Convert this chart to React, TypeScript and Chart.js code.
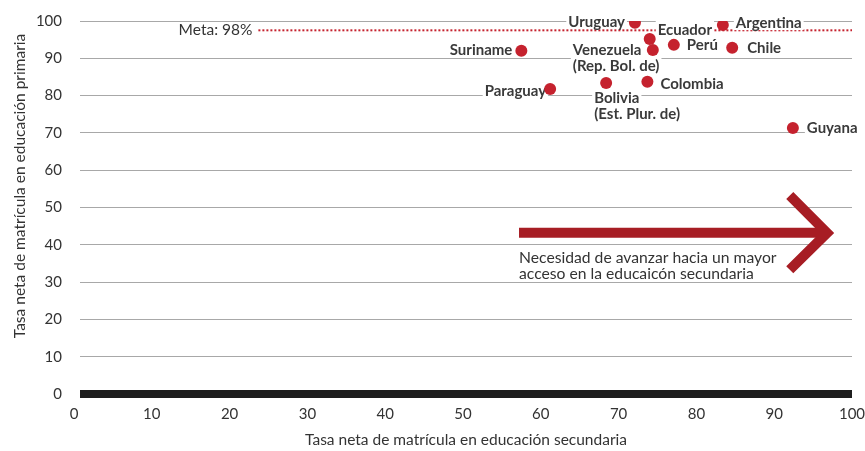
import React, { useEffect, useRef } from 'react';
import { Chart, registerables } from 'chart.js';

Chart.register(...registerables);

// ---- data ----
const countries = [
  'Uruguay',
  'Argentina',
  'Ecuador',
  'Venezuela (Rep. Bol. de)',
  'Perú',
  'Chile',
  'Suriname',
  'Paraguay',
  'Bolivia (Est. Plur. de)',
  'Colombia',
  'Guyana',
];
const secundaria = [72.1, 83.4, 74.0, 74.4, 77.1, 84.6, 57.5, 61.2, 68.4, 73.7, 92.4];
const primaria = [99.5, 98.9, 95.2, 92.2, 93.6, 92.8, 92.0, 81.8, 83.4, 83.7, 71.3];

const xTicks = [0, 10, 20, 30, 40, 50, 60, 70, 80, 90, 100];
const yTicks = [0, 10, 20, 30, 40, 50, 60, 70, 80, 90, 100];

const metaValue = 97.5;
const metaLabel = 'Meta: 98%';
const xTitle = 'Tasa neta de matrícula en educación secundaria';
const yTitle = 'Tasa neta de matrícula en educación primaria';
const arrowText = ['Necesidad de avanzar hacia un mayor', 'acceso en la educaicón secundaria'];

// ---- annotation geometry & label layout (style, not data) ----
const metaStartX = 23.7;
const arrowGeom = { x0: 57.2, x1: 96.8, y: 43.2, headX: 92.0, headTop: 53.2, headBottom: 33.3 };
type LabelLayout = { dx: number; dy: number; align: CanvasTextAlign; split?: boolean };
const labelLayout: LabelLayout[] = [
  { dx: -10, dy: -1, align: 'right' },
  { dx: 13, dy: -2, align: 'left' },
  { dx: 8, dy: -9, align: 'left' },
  { dx: -80, dy: 0, align: 'left', split: true },
  { dx: 13, dy: 0, align: 'left' },
  { dx: 15, dy: 0, align: 'left' },
  { dx: -9, dy: -1, align: 'right' },
  { dx: -4, dy: 2, align: 'right' },
  { dx: -12, dy: 15, align: 'left', split: true },
  { dx: 13, dy: 2, align: 'left' },
  { dx: 14, dy: 0, align: 'left' },
];

const RED = '#c5222e';
const DARK_RED = '#a71d24';
const TEXT = '#333333';
const FONT = 'Lato, "Open Sans", sans-serif';

const overlayPlugin = {
  id: 'overlay',
  beforeDatasetsDraw(chart: any) {
    const { ctx, chartArea } = chart;
    const x = chart.scales.x;
    const y = chart.scales.y;
    ctx.save();

    // meta dotted line
    const my = y.getPixelForValue(metaValue);
    const mx = x.getPixelForValue(metaStartX);
    ctx.strokeStyle = RED;
    ctx.lineWidth = 2;
    ctx.setLineDash([2, 2]);
    ctx.beginPath();
    ctx.moveTo(mx, my);
    ctx.lineTo(chartArea.right, my);
    ctx.stroke();
    ctx.setLineDash([]);
    ctx.font = `15.5px ${FONT}`;
    ctx.fillStyle = TEXT;
    ctx.textAlign = 'right';
    ctx.textBaseline = 'middle';
    ctx.fillText(metaLabel, mx - 6, my);

    // arrow
    const ay = y.getPixelForValue(arrowGeom.y);
    const ax0 = x.getPixelForValue(arrowGeom.x0);
    const ax1 = x.getPixelForValue(arrowGeom.x1);
    ctx.strokeStyle = DARK_RED;
    ctx.lineWidth = 10;
    ctx.lineCap = 'butt';
    ctx.beginPath();
    ctx.moveTo(ax0, ay);
    ctx.lineTo(ax1 - 4, ay);
    ctx.stroke();
    ctx.lineJoin = 'miter';
    ctx.beginPath();
    ctx.moveTo(x.getPixelForValue(arrowGeom.headX), y.getPixelForValue(arrowGeom.headTop));
    ctx.lineTo(ax1, ay);
    ctx.lineTo(x.getPixelForValue(arrowGeom.headX), y.getPixelForValue(arrowGeom.headBottom));
    ctx.stroke();

    ctx.font = `15.7px ${FONT}`;
    ctx.fillStyle = TEXT;
    ctx.textAlign = 'left';
    ctx.textBaseline = 'alphabetic';
    arrowText.forEach((line, j) => {
      ctx.fillText(line, ax0, ay + 30 + j * 16);
    });

    // point labels
    const meta = chart.getDatasetMeta(0);
    ctx.font = `bold 15px ${FONT}`;
    ctx.textBaseline = 'middle';
    countries.forEach((name, i) => {
      const p = meta.data[i];
      if (!p) return;
      const L = labelLayout[i];
      const lines = L.split ? name.replace(' (', '\n(').split('\n') : [name];
      lines.forEach((line, j) => {
        const w = ctx.measureText(line).width;
        const tx = p.x + L.dx;
        const ty = p.y + L.dy + j * 16;
        const left = L.align === 'right' ? tx - w : tx;
        ctx.fillStyle = '#ffffff';
        ctx.fillRect(left - 2, ty - 10, w + 4, 17);
        ctx.fillStyle = '#3a3a3a';
        ctx.textAlign = L.align;
        ctx.fillText(line, tx, ty);
      });
    });
    ctx.restore();
  },
  afterDraw(chart: any) {
    const { ctx } = chart;
    ctx.save();
    ctx.translate(20, 186);
    ctx.rotate(-Math.PI / 2);
    ctx.font = `15.5px ${FONT}`;
    ctx.fillStyle = TEXT;
    ctx.textAlign = 'center';
    ctx.textBaseline = 'middle';
    ctx.fillText(yTitle, 0, 0);
    ctx.restore();
  },
};

export default function App() {
  const canvasRef = useRef<HTMLCanvasElement | null>(null);

  useEffect(() => {
    if (!canvasRef.current) return;
    const points = secundaria.map((v, i) => ({ x: v, y: primaria[i] }));
    const chart = new Chart(canvasRef.current, {
      type: 'scatter',
      data: {
        labels: countries,
        datasets: [
          {
            label: 'Países',
            data: points,
            backgroundColor: RED,
            borderWidth: 0,
            pointRadius: 6,
            pointHoverRadius: 6,
          },
        ],
      },
      options: {
        responsive: false,
        animation: false,
        events: [],
        layout: { padding: { top: 21, right: 13, left: 0, bottom: 0 } },
        plugins: { legend: { display: false }, tooltip: { enabled: false } },
        scales: {
          x: {
            type: 'linear',
            min: 0.771,
            max: 100,
            afterBuildTicks: (axis: any) => {
              axis.ticks = xTicks.map((v) => ({ value: v }));
            },
            afterFit: (s: any) => {
              s.height = 57;
              s.paddingLeft = 0;
              s.paddingRight = 0;
            },
            grid: { display: false, drawTicks: false },
            border: { display: false },
            ticks: { padding: 11, color: TEXT, font: { family: FONT, size: 15 }, maxRotation: 0, autoSkip: false },
            title: {
              display: true,
              text: xTitle,
              color: TEXT,
              font: { family: FONT, size: 15.5 },
              padding: { top: 0, bottom: 2 },
            },
          },
          y: {
            type: 'linear',
            min: 0,
            max: 100,
            afterBuildTicks: (axis: any) => {
              axis.ticks = yTicks.map((v) => ({ value: v }));
            },
            afterFit: (s: any) => {
              s.width = 80;
              s.paddingTop = 0;
              s.paddingBottom = 0;
            },
            grid: {
              drawTicks: false,
              color: (c: any) => (c.tick && c.tick.value === 0 ? '#1e1e1e' : '#a8a8a8'),
              lineWidth: (c: any) => (c.tick && c.tick.value === 0 ? 8 : 1),
            },
            border: { display: false },
            ticks: { padding: 18, color: TEXT, font: { family: FONT, size: 15 } },
          },
        },
      },
      plugins: [overlayPlugin],
    });
    return () => chart.destroy();
  }, []);

  return (
    <div style={{ position: 'fixed', left: 0, top: 0, width: 865, height: 451, background: '#fff' }}>
      <canvas ref={canvasRef} width={865} height={451} style={{ display: 'block' }} />
    </div>
  );
}
